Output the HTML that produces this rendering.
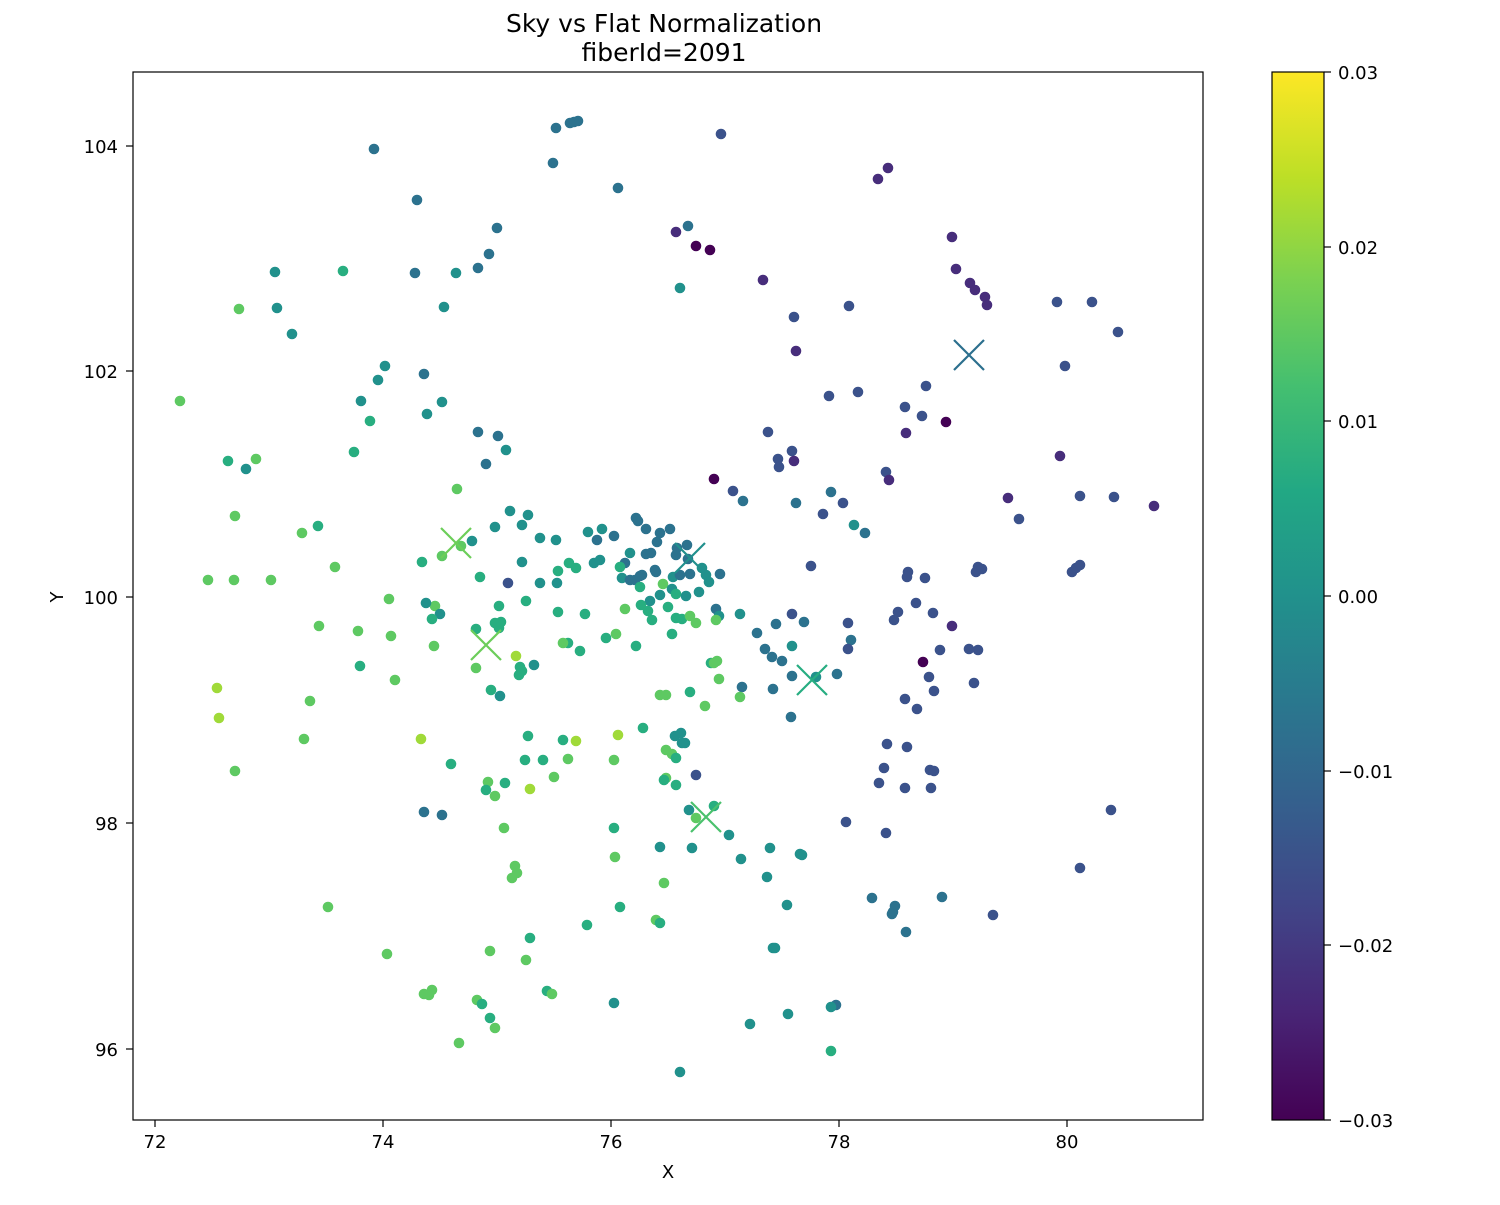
<!DOCTYPE html>
<html><head><meta charset="utf-8"><style>
body{margin:0;background:#fff;}
svg text{font-family:"DejaVu Sans","Liberation Sans",sans-serif;fill:#000;}
</style></head><body>
<svg id="s" width="1500" height="1200" xmlns="http://www.w3.org/2000/svg">
<defs><linearGradient id="vir" x1="0" y1="1" x2="0" y2="0">
<stop offset="0" stop-color="#440154"/><stop offset="0.1" stop-color="#482475"/><stop offset="0.2" stop-color="#414487"/><stop offset="0.3" stop-color="#355f8d"/><stop offset="0.4" stop-color="#2a788e"/><stop offset="0.5" stop-color="#21918c"/><stop offset="0.6" stop-color="#22a884"/><stop offset="0.7" stop-color="#44bf70"/><stop offset="0.8" stop-color="#7ad151"/><stop offset="0.9" stop-color="#bddf26"/><stop offset="1" stop-color="#fde725"/>
</linearGradient></defs>
<g id="pts"></g>
<rect x="133" y="72" width="1070" height="1048" fill="none" stroke="#000" stroke-width="1.2"/>
<g stroke="#000" stroke-width="1.2">
<line x1="155" y1="1120" x2="155" y2="1127"/><line x1="383" y1="1120" x2="383" y2="1127"/><line x1="611" y1="1120" x2="611" y2="1127"/><line x1="839" y1="1120" x2="839" y2="1127"/><line x1="1067" y1="1120" x2="1067" y2="1127"/>
<line x1="126" y1="146" x2="133" y2="146"/><line x1="126" y1="371" x2="133" y2="371"/><line x1="126" y1="597" x2="133" y2="597"/><line x1="126" y1="823" x2="133" y2="823"/><line x1="126" y1="1049" x2="133" y2="1049"/>
</g>
<g font-size="18" text-anchor="middle">
<text x="155" y="1148">72</text><text x="383" y="1148">74</text><text x="611" y="1148">76</text><text x="839" y="1148">78</text><text x="1067" y="1148">80</text>
</g>
<g font-size="18" text-anchor="end">
<text x="118" y="153">104</text><text x="118" y="378">102</text><text x="118" y="604">100</text><text x="118" y="830">98</text><text x="118" y="1056">96</text>
</g>
<text x="668" y="1178" font-size="18" text-anchor="middle">X</text>
<text x="63" y="597" font-size="18" text-anchor="middle" transform="rotate(-90 63 597)">Y</text>
<text x="664" y="32" font-size="25" text-anchor="middle">Sky vs Flat Normalization</text>
<text x="664" y="61" font-size="25" text-anchor="middle">fiberId=2091</text>
<rect x="1272" y="72" width="52" height="1048" fill="url(#vir)" stroke="#000" stroke-width="1.2"/>
<g stroke="#000" stroke-width="1.2">
<line x1="1324" y1="72" x2="1331" y2="72"/><line x1="1324" y1="247" x2="1331" y2="247"/><line x1="1324" y1="421" x2="1331" y2="421"/><line x1="1324" y1="596" x2="1331" y2="596"/><line x1="1324" y1="771" x2="1331" y2="771"/><line x1="1324" y1="945" x2="1331" y2="945"/><line x1="1324" y1="1120" x2="1331" y2="1120"/>
</g>
<g font-size="18">
<text x="1338" y="79">0.03</text><text x="1338" y="254">0.02</text><text x="1338" y="428">0.01</text><text x="1338" y="603">0.00</text><text x="1338" y="778">−0.01</text><text x="1338" y="952">−0.02</text><text x="1338" y="1127">−0.03</text>
</g>
</svg>
<script>
var C={p:"#440154",a:"#472d7b",b:"#3b528b",c:"#2c728e",d:"#21918c",e:"#28ae80",f:"#5ec962",g:"#a0da39"};
var P="578,121,c 574,122,c 570,123,c 556,128,c 721,134,b 374,149,c 553,163,c 888,168,a 878,179,a 618,188,c 417,200,c 676,232,a 688,226,c 696,246,p 710,250,p 497,228,c 952,237,a 489,254,c 478,268,c 343,271,e 456,273,d 275,272,d 415,273,c 956,269,a 970,283,a 975,290,a 985,297,a 987,305,a 1057,302,b 1092,302,b 680,288,d 239,309,f 277,308,d 444,307,d 763,280,a 849,306,b 794,317,b 292,334,d 1118,332,b 796,351,a 385,366,d 1065,366,b 378,380,d 424,374,c 180,401,f 361,401,d 442,402,d 829,396,b 926,386,b 858,392,b 905,407,b 922,416,b 427,414,d 370,421,e 946,422,p 478,432,c 768,432,b 498,436,c 906,433,a 354,452,e 792,451,b 506,450,d 794,461,a 228,461,e 778,459,b 486,464,c 256,459,f 779,467,b 714,479,p 1060,456,a 886,472,b 889,480,a 733,491,b 743,501,c 246,469,d 457,489,f 796,503,c 831,492,c 843,503,b 823,514,b 1080,496,b 1114,497,b 1008,498,a 1154,506,a 235,516,f 510,511,d 528,515,d 522,525,d 1019,519,b 636,518,c 638,521,c 854,525,d 865,533,c 302,533,f 318,526,e 495,527,d 588,532,d 602,529,d 614,536,c 670,529,c 646,529,c 597,540,c 461,546,f 472,541,d 540,538,d 556,540,d 646,554,c 625,563,c 651,553,c 660,533,c 677,548,c 687,545,c 676,555,c 688,559,c 657,542,c 569,563,e 576,568,e 620,567,e 422,562,e 630,553,d 442,556,f 522,562,d 558,571,e 635,580,c 642,575,c 656,572,c 208,580,f 234,580,f 271,580,f 335,567,f 480,577,e 508,583,b 540,583,d 557,583,d 622,578,d 630,580,c 640,576,c 655,570,c 673,577,d 680,575,c 690,574,c 702,568,d 706,575,d 720,574,c 709,582,d 699,592,d 811,566,b 908,572,b 925,578,b 907,577,b 1072,572,b 1076,568,b 1080,565,b 978,567,b 976,572,b 982,569,b 594,563,d 600,560,d 640,587,e 663,584,f 660,595,d 672,589,d 676,594,e 686,596,d 650,601,d 641,605,e 648,611,e 389,599,f 435,606,f 426,603,d 440,614,d 499,606,e 501,622,e 526,601,e 558,612,e 585,614,e 668,607,e 676,618,e 682,619,e 690,616,f 716,609,c 719,616,d 740,614,d 776,624,c 792,614,b 804,622,c 848,623,b 898,612,b 894,620,b 933,613,b 916,603,b 952,626,a 495,623,e 499,628,e 391,636,f 319,626,f 358,631,f 432,619,e 476,629,e 434,646,f 616,634,f 606,638,e 580,651,e 568,643,e 636,646,e 672,634,e 652,620,e 625,609,f 563,643,f 696,623,f 716,620,f 757,633,c 765,649,c 851,640,c 848,649,b 978,650,b 969,649,b 940,650,b 711,663,e 714,663,f 717,661,f 792,646,d 772,657,c 782,661,c 837,674,c 792,676,c 816,677,d 742,687,c 773,689,c 929,677,b 974,683,b 923,662,p 360,666,e 217,688,g 310,701,f 395,680,f 476,668,f 516,656,g 520,667,e 522,671,e 519,675,e 491,690,e 500,696,d 534,665,d 660,695,f 666,695,f 690,692,e 719,679,f 705,706,f 740,697,f 905,699,b 917,709,b 934,691,b 791,717,c 219,718,g 304,739,f 421,739,g 528,736,e 563,740,e 576,741,g 618,735,g 643,728,e 675,736,d 681,733,d 685,743,d 682,743,d 887,744,b 907,747,b 884,768,b 525,760,e 543,760,e 568,759,f 235,771,f 451,764,e 614,760,f 666,750,f 672,754,f 676,758,e 696,775,b 666,778,f 664,780,e 676,785,e 488,782,f 505,783,e 486,790,e 554,777,f 530,789,g 495,796,f 424,812,c 442,815,c 930,770,b 934,771,b 879,783,b 905,788,b 931,788,b 714,806,e 689,810,d 696,818,f 1111,810,b 614,828,e 504,828,f 846,822,b 886,833,b 729,835,d 692,848,d 770,848,d 800,854,d 802,855,d 660,847,d 615,857,f 741,859,d 1080,868,b 515,866,f 517,873,f 512,878,f 664,883,f 767,877,d 328,907,f 620,907,e 787,905,d 872,898,c 895,906,c 893,912,c 892,914,c 942,897,c 993,915,b 656,920,f 660,923,e 587,925,e 906,932,c 530,938,e 773,948,d 775,948,d 490,951,f 387,954,f 526,960,f 424,994,f 429,995,f 432,990,f 547,991,e 552,994,f 477,1000,f 482,1004,e 614,1003,d 836,1005,c 831,1007,d 750,1024,d 788,1014,d 490,1018,e 495,1028,f 459,1043,f 831,1051,e 680,1072,d";
var g=document.getElementById("pts"),h="";
P.split(" ").forEach(function(s){var q=s.split(",");h+='<circle cx="'+q[0]+'" cy="'+q[1]+'" r="5.3" fill="'+C[q[2]]+'"/>';});
[[969,355,"#2c6f8e"],[456,543,"#6cce59"],[690,558,"#21908d"],[486,645,"#6ccd5a"],[812,680,"#27ad81"],[706,817,"#4ac16d"]].forEach(function(x){
h+='<path d="M'+(x[0]-15)+' '+(x[1]-15)+'L'+(x[0]+15)+' '+(x[1]+15)+'M'+(x[0]-15)+' '+(x[1]+15)+'L'+(x[0]+15)+' '+(x[1]-15)+'" stroke="'+x[2]+'" stroke-width="2.2" fill="none"/>';});
g.innerHTML=h;
</script>
</body></html>
